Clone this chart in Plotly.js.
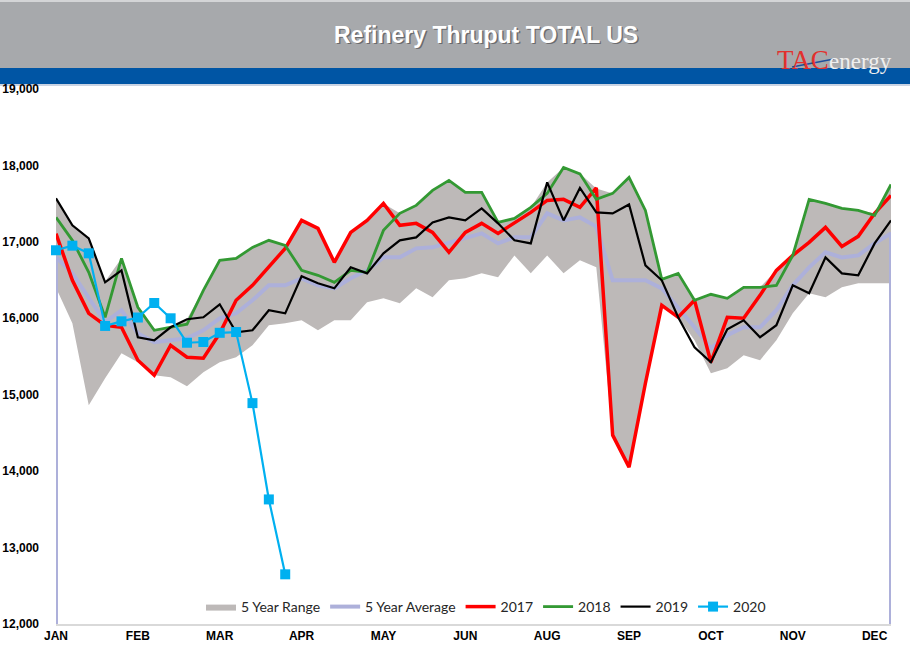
<!DOCTYPE html>
<html><head><meta charset="utf-8">
<script src="https://cdn.plot.ly/plotly-3.0.1.min.js"></script>
<style>html,body{margin:0;padding:0;background:#fff}#chart{width:910px;height:661px}</style>
</head><body><div id="chart"></div>
<script>
const weeks = [1,2,3,4,5,6,7,8,9,10,11,12,13,14,15,16,17,18,19,20,21,22,23,24,25,26,
  27,28,29,30,31,32,33,34,35,36,37,38,39,40,41,42,43,44,45,46,47,48,49,50,51,52];
const tickWeeks = [1,6,11,16,21,26,31,36,41,46,51];
const tickLabels = ['JAN','FEB','MAR','APR','MAY','JUN','AUG','SEP','OCT','NOV','DEC'];
const yTicks = [12000,13000,14000,15000,16000,17000,18000,19000];

const range5Low = [16400,15935,14863,15216,15542,15425,15255,15229,15111,15294,15425,15490,15647,15908,15935,
  15974,15843,15974,15974,16209,16261,16196,16392,16275,16497,16523,16588,16536,16823,16588,16823,16588,16758,16667,
  14471,14052,15150,16170,16013,15712,15281,15346,15516,15451,15712,16065,16327,16275,16405,16458,16458,16458];
const range5High = [17569,17216,17046,16480,16784,16144,15843,15890,15990,16366,16758,16784,16928,17020,16954,
  17281,17176,16732,17124,17281,17503,17373,17477,17673,17804,17647,17647,17255,17307,17451,17778,17974,17895,17699,
  17634,17843,17412,16510,16588,16235,16314,16261,16405,16405,16627,16823,17556,17503,17438,17412,17373,17752];
const avg5 = [16800,16588,16275,15948,16105,15804,15686,15712,15739,15843,16000,16065,16235,16431,16431,
  16523,16431,16392,16523,16627,16797,16797,16915,16928,16993,17059,17111,16980,17059,17059,17373,17281,17320,17200,
  16497,16497,16497,16392,16144,15882,15608,15778,15882,15882,16105,16431,16667,16863,16797,16823,16980,17111];
const avgEdge = 0;
const y2017 = [17107,16497,16065,15908,15882,15451,15255,15647,15490,15477,15804,16235,16431,16667,16915,
  17281,17176,16732,17124,17281,17503,17216,17242,17124,16863,17124,17242,17111,17242,17386,17542,17556,17451,17705,
  14471,14052,15150,16170,16013,16235,15425,16013,16000,16300,16627,16823,16993,17190,16941,17072,17373,17608];
const y2018 = [17320,17020,16601,16013,16784,16144,15843,15882,15922,16366,16758,16784,16928,17020,16954,
  16627,16562,16471,16627,16601,17150,17373,17477,17673,17804,17647,17647,17255,17307,17451,17634,17974,17890,17556,
  17634,17843,17412,16510,16588,16235,16314,16261,16405,16405,16431,16823,17556,17503,17438,17412,17346,17752];
const y2019 = [17569,17216,17046,16471,16627,15752,15712,15882,15987,16013,16183,15817,15843,16105,16065,
  16550,16458,16392,16667,16588,16850,17020,17059,17255,17320,17281,17438,17242,17020,16980,17778,17281,17705,17386,
  17373,17490,16693,16497,16013,15621,15425,15856,15974,15752,15909,16431,16327,16797,16588,16562,16980,17281];
const y2020 = [16890,16950,16850,15900,15960,16010,16200,16000,15680,15690,15810,15820,14890,13630,12650];

const avgX = [weeks[0]].concat(weeks, [weeks[weeks.length-1]]);
const avgY = [avgEdge].concat(avg5, [avgEdge]);

const traces = [
  {x: weeks, y: range5Low, type:'scatter', mode:'lines', line:{width:0, color:'#bcb8b7'},
   showlegend:false, hoverinfo:'skip'},
  {x: weeks, y: range5High, type:'scatter', mode:'lines', fill:'tonexty', fillcolor:'#bdb9b8',
   line:{width:0, color:'#bdb9b8'}, name:'5 Year Range'},
  {x: avgX, y: avgY, type:'scatter', mode:'lines', line:{width:4, color:'#adb0da'}, name:'5 Year Average'},
  {x: weeks, y: y2017, type:'scatter', mode:'lines', line:{width:3.5, color:'#ff0000'}, name:'2017'},
  {x: weeks, y: y2018, type:'scatter', mode:'lines', line:{width:2.8, color:'#339933'}, name:'2018'},
  {x: weeks, y: y2019, type:'scatter', mode:'lines', line:{width:2.2, color:'#000000'}, name:'2019'},
  {x: weeks.slice(0, y2020.length), y: y2020, type:'scatter', mode:'lines+markers', cliponaxis:false,
   line:{width:2.2, color:'#00b0f0'}, marker:{symbol:'square', size:10, color:'#00b0f0'}, name:'2020'}
];

const px = v => (v - 56) / 835;          // page pixel -> paper x
const py = v => (624 - v) / 535;         // page pixel -> paper y
const titleFont = 'Liberation Sans, Arial, sans-serif';

const layout = {
  width: 910, height: 661,
  margin: {l:56, r:19, t:89, b:37},
  paper_bgcolor:'#ffffff', plot_bgcolor:'#ffffff',
  title: {text:'Refinery Thruput TOTAL US', xref:'container', yref:'container', x:487.5/910, y:1-36/661,
    xanchor:'center', yanchor:'middle',
    font:{family:titleFont, size:23, weight:'bold', color:'#6b6b6e'}},
  xaxis: {range:[1,52], tickmode:'array', tickvals:tickWeeks, ticktext:tickLabels, showgrid:false, zeroline:false,
    showline:true, linecolor:'#d9d9d9', linewidth:2, ticks:'',
    tickfont:{family:'Liberation Sans, Arial, sans-serif', size:12, weight:'bold', color:'#000'}},
  yaxis: {range:[12000,19000], tickmode:'array', tickvals:yTicks, tickformat:',d', showgrid:false, zeroline:false,
    showline:false, ticks:'', ticklabelstandoff:16,
    tickfont:{family:'Liberation Sans, Arial, sans-serif', size:12, weight:'bold', color:'#000'}},
  legend: {orientation:'h', traceorder:'normal', x:0.515, xanchor:'center', y:py(607), yanchor:'middle', bgcolor:'rgba(0,0,0,0)',
    font:{family:'Lato, Open Sans, sans-serif', size:14, color:'#262626'}, itemwidth:30, tracegroupgap:0},
  shapes: [
    {type:'rect', xref:'paper', yref:'paper', x0:px(0), x1:px(910), y0:py(68), y1:py(0), fillcolor:'#a7a9ac', line:{width:0}, layer:'below'},
    {type:'rect', xref:'paper', yref:'paper', x0:px(0), x1:px(910), y0:py(2), y1:py(0), fillcolor:'#d4d5d7', line:{width:0}, layer:'below'},
    {type:'rect', xref:'paper', yref:'paper', x0:px(0), x1:px(910), y0:py(84), y1:py(68), fillcolor:'#0055a4', line:{width:0}, layer:'below'},
    {type:'rect', xref:'paper', yref:'paper', x0:px(0), x1:px(910), y0:py(86), y1:py(84), fillcolor:'#c9d3e3', line:{width:0}, layer:'below'},
    {type:'line', xref:'paper', yref:'paper', x0:px(792), x1:px(834), y0:py(67), y1:py(59), line:{color:'#1f4e9c', width:1.5}}
  ],
  annotations: [
    {text:'Refinery Thruput TOTAL US', xref:'paper', yref:'paper', x:px(486), y:py(34.5), xanchor:'center', yanchor:'middle',
     showarrow:false, font:{family:titleFont, size:23, weight:'bold', color:'#ffffff'}},
    {text:'TAC', xref:'paper', yref:'paper', x:px(775), y:py(77), xanchor:'left', yanchor:'bottom', showarrow:false,
     font:{family:'Liberation Serif, serif', size:27, color:'#e2302d'}},
    {text:'energy', xref:'paper', yref:'paper', x:px(827), y:py(61), xanchor:'left', yanchor:'middle', showarrow:false,
     font:{family:'Liberation Serif, serif', size:23, color:'#efefef'}}
  ]
};

Plotly.newPlot('chart', traces, layout, {displayModeBar:false, staticPlot:true});
</script>
</body></html>
